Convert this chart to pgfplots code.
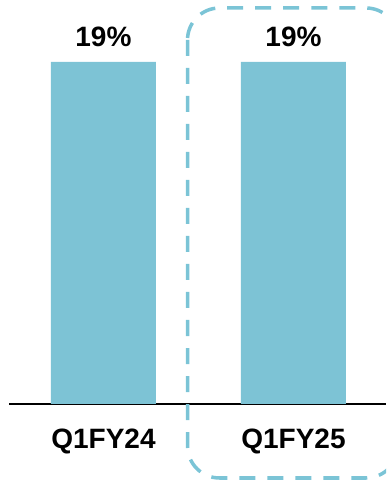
\documentclass[border=0pt]{standalone}
\usepackage{pgfplots}
\pgfplotsset{compat=1.18}
\usepackage{fontspec}
\setmainfont{Liberation Sans}
\definecolor{barblue}{HTML}{7DC3D5}
\definecolor{boxblue}{HTML}{7BC4D6}
\begin{document}
\begin{tikzpicture}[x=1bp,y=1bp]
\useasboundingbox (0,0) rectangle (386,480);
\begin{axis}[
  at={(9bp,76bp)}, anchor=south west,
  scale only axis, width=377bp, height=404bp,
  xmin=-0.497, xmax=1.487, ymin=0, ymax=22.44,
  axis x line*=bottom, axis y line=none,
  x axis line style={black, line width=1.5bp, -},
  xtick=data, xticklabels={Q1FY24,Q1FY25},
  major tick length=0, xtick style={draw=none},
  xticklabel style={anchor=base, yshift=-44bp, font=\fontsize{28bp}{33bp}\selectfont\bfseries},
  ytick=\empty,
  clip=false,
  ybar, bar width=105bp,
  /pgf/number format/assume math mode=true,
  nodes near coords={\pgfmathprintnumber[fixed,precision=0]{\pgfplotspointmeta}\%},
  nodes near coords style={anchor=base, yshift=15bp, font=\fontsize{28bp}{33bp}\selectfont\bfseries, text=black},
]
\addplot[fill=barblue, draw=none] coordinates {(0,19) (1,19)};
\end{axis}
% highlight frame around the latest quarter
\begin{scope}
  \clip (0,0) rectangle (386,480);
  \draw[boxblue, line width=3.5bp, rounded corners=32bp, dash pattern=on 16bp off 12bp]
    (187.5,472) -- (187.5,2) -- (398,2) -- (398,472) -- cycle;
\end{scope}
\end{tikzpicture}
\end{document}
